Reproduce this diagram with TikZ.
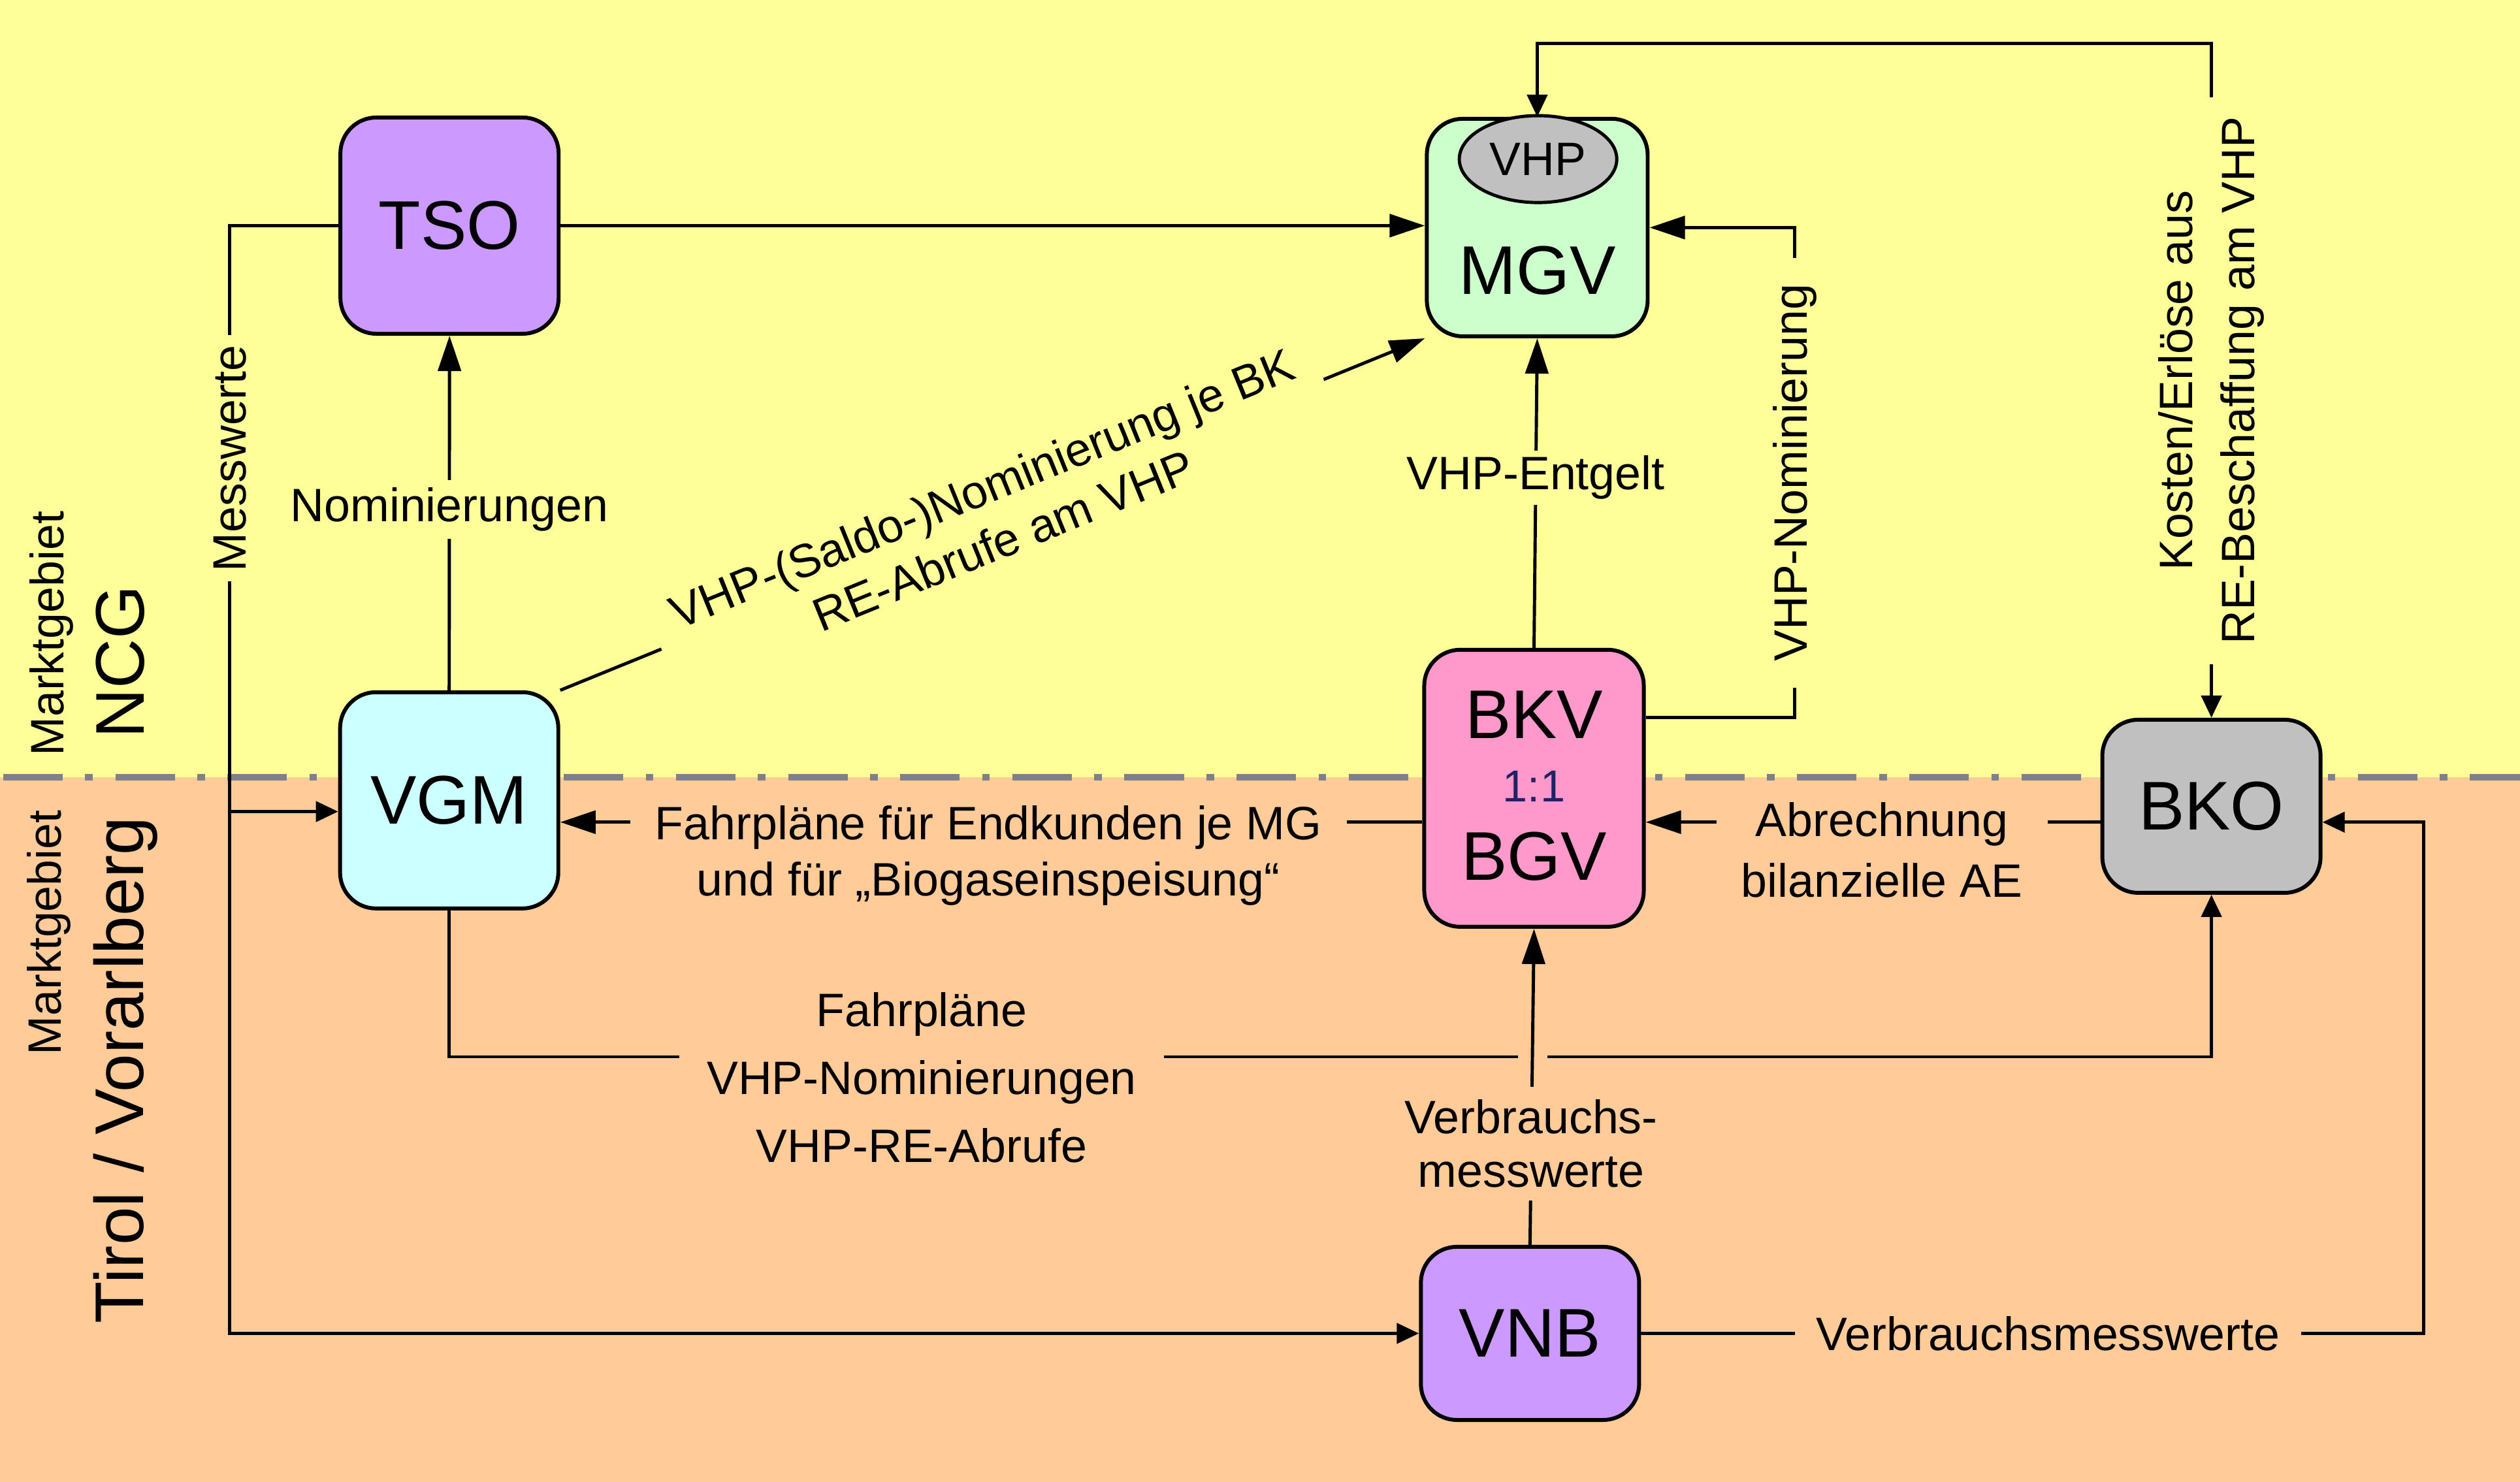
\documentclass[tikz,border=0pt]{standalone}
\usepackage{fontspec}
\setmainfont{Liberation Sans}
\usepackage{tikz}
\usetikzlibrary{arrows.meta,shapes.geometric}
\definecolor{ncgyellow}{HTML}{FFFF99}
\definecolor{tvorange}{HTML}{FFCC99}
\definecolor{tsopurple}{HTML}{CC99FF}
\definecolor{mgvgreen}{HTML}{CCFFCC}
\definecolor{vgmcyan}{HTML}{CCFFFF}
\definecolor{bkvpink}{HTML}{FF99CC}
\definecolor{bkogray}{HTML}{C0C0C0}
\definecolor{bordergray}{HTML}{7F8088}
\definecolor{rationavy}{HTML}{222266}
\tikzset{%
  actor/.style      = {shape=rectangle, rounded corners=0.55cm,%
                       draw, line width=1.7pt, inner sep=0pt,%
                       minimum width=3.34cm, minimum height=3.31cm,%
                       font=\fontsize{30}{36}\selectfont},%
  bigtxt/.style     = {inner sep=0pt, font=\fontsize{30}{36}\selectfont},%
  ratiotxt/.style   = {inner sep=0pt, text=rationavy, font=\fontsize{19.5}{23}\selectfont},%
  vhpoval/.style    = {shape=ellipse, draw, line width=1.4pt, fill=bkogray,%
                       minimum width=2.41cm, minimum height=1.33cm, inner sep=0pt,%
                       font=\fontsize{20.4}{24.5}\selectfont},%
  lbl/.style        = {fill=ncgyellow, align=center, inner xsep=0.38cm, inner ysep=0.12cm,%
                       font=\fontsize{20.4}{24.5}\selectfont},%
  lowlbl/.style     = {lbl, fill=tvorange},%
  areatxt/.style    = {rotate=90, inner sep=0pt, font=\fontsize{20.4}{24.5}\selectfont},%
  areabig/.style    = {rotate=90, inner sep=0pt, font=\fontsize{30}{36}\selectfont},%
  plainline/.style  = {line width=1.4pt},%
  bigarrow/.style   = {plainline, -{Triangle[length=0.54cm, width=0.35cm]}},%
  smallarrow/.style = {plainline, -{Triangle[length=0.34cm, width=0.31cm]}},%
  twoarrow/.style   = {plainline, {Triangle[length=0.34cm, width=0.31cm]}-{Triangle[length=0.34cm, width=0.31cm]}},%
  marketline/.style = {draw=bordergray, line width=2.8pt,%
                       dash pattern=on 0.91cm off 0.345cm on 0.116cm off 0.345cm}%
}
\begin{document}
\begin{tikzpicture}[x=0.0246cm, y=0.0246cm]%
  \useasboundingbox (0,0) rectangle (1568,-922);%
  \fill[ncgyellow] (0,0) rectangle (1568,-483.5);%
  \fill[tvorange] (0,-483.5) rectangle (1568,-922);%
  \draw[marketline] (2,-483.6) -- (1568,-483.6);%
  \node[areatxt] (mgtop) at (32.2,-394.3) {Marktgebiet};%
  \node[areabig] (ncg) at (75,-412) {NCG};%
  \node[areatxt] (mgbot) at (30.5,-580.3) {Marktgebiet};%
  \node[areabig] (tirol) at (78.3,-665.8) {Tirol / Vorarlberg};%
  \node[actor, fill=tsopurple] (tso) at (279.7,-140.4) {TSO};%
  \node[actor, fill=mgvgreen, minimum width=3.38cm, minimum height=3.33cm] (mgv) at (956.5,-141.6) {};%
  \node[vhpoval] (vhp) at (957,-99) {VHP};%
  \node[bigtxt] (mgvtxt) at (956.5,-168.5) {MGV};%
  \node[actor, fill=vgmcyan] (vgm) at (279.5,-498) {VGM};%
  \node[actor, fill=bkvpink, minimum width=3.36cm, minimum height=4.24cm] (bkv) at (954.5,-490.5) {};%
  \node[bigtxt] (bkvtxt) at (954.5,-444.8) {BKV};%
  \node[ratiotxt] (ratio) at (954.5,-489.4) {1:1};%
  \node[bigtxt] (bgvtxt) at (954.5,-533) {BGV};%
  \node[actor, fill=bkogray, minimum height=2.65cm] (bko) at (1376,-501.7) {BKO};%
  \node[actor, fill=tsopurple, minimum height=2.65cm] (vnb) at (952,-829.7) {VNB};%
  \coordinate (mwx) at (143,-505);%
  \coordinate (fpy) at (0,-511.6);%
  \coordinate (nomx) at (1116.7,-446.5);%
  \coordinate (koy) at (0,-27);%
  \coordinate (vmx) at (1508,-511.6);%
  \coordinate (gapl) at (944.5,-657.6);%
  \coordinate (gapr) at (963,-657.6);%
  \draw[bigarrow] (tso.east) -- (tso.east -| mgv.west);%
  \draw[bigarrow] (vgm.north) -- node[lbl, pos=0.51] (lblnom) {Nominierungen} (tso.south);%
  \draw[smallarrow] (tso.west) -- (tso.west -| mwx) -- node[lbl, rotate=90, pos=0.21, inner xsep=0.15cm] (lblmw) {Messwerte} (mwx |- vnb.west) -- (vnb.west);%
  \draw[smallarrow] (mwx) -- (mwx -| vgm.west);%
  \draw[bigarrow] (vgm.north east) -- node[lbl, sloped, inner xsep=0.35cm] (lblsaldo) {VHP-(Saldo-)Nominierung je BK\\RE-Abrufe am VHP} (mgv.south west);%
  \draw[bigarrow] (bkv.north) -- node[lbl, pos=0.55, inner ysep=0.08cm] (lblent) {VHP-Entgelt} (mgv.south);%
  \draw[bigarrow] (bkv.east |- nomx) -- (nomx) -- node[lbl, rotate=90, inner xsep=0.4cm] (lblnomi) {VHP-Nominierung} (nomx |- mgv.east) -- (mgv.east);%
  \draw[twoarrow] (bko.north) -- node[lbl, rotate=90, inner xsep=0.3cm, font=\fontsize{20.4}{27.2}\selectfont] (lblkosten) {Kosten/Erlöse aus\\RE-Beschaffung am VHP} (bko.north |- koy) -| (mgv.north);%
  \draw[bigarrow] (bkv.west |- fpy) -- (vgm.east |- fpy);%
  \draw[bigarrow] (bko.west |- fpy) -- (bkv.east |- fpy);%
  \draw[smallarrow] (vnb.east) -- node[lowlbl, pos=0.52, inner xsep=0.33cm] (lblvm) {Verbrauchsmesswerte} (vnb.east -| vmx) -- (vmx) -- (bko.east |- vmx);%
  \draw[plainline] (vgm.south) |- (gapl);%
  \draw[smallarrow] (gapr) -| (bko.south);%
  \draw[bigarrow] (vnb.north) -- node[lowlbl, pos=0.32, inner ysep=0.2cm, font=\fontsize{20.4}{23.3}\selectfont] (lblvbr) {Verbrauchs-\\messwerte} (bkv.south);%
  \node[lowlbl] (lblfp) at (615,-532.5) {Fahrpläne für Endkunden je MG\\und für „Biogaseinspeisung“};%
  \node[lowlbl, font=\fontsize{20.4}{26.5}\selectfont] (lblabr) at (1171,-529) {Abrechnung\\bilanzielle AE};%
  \node[lowlbl, inner xsep=0.42cm, font=\fontsize{20.4}{29.5}\selectfont] (lblfahr) at (573.5,-670.5) {Fahrpläne\\VHP-Nominierungen\\VHP-RE-Abrufe};%
\end{tikzpicture}
\end{document}
